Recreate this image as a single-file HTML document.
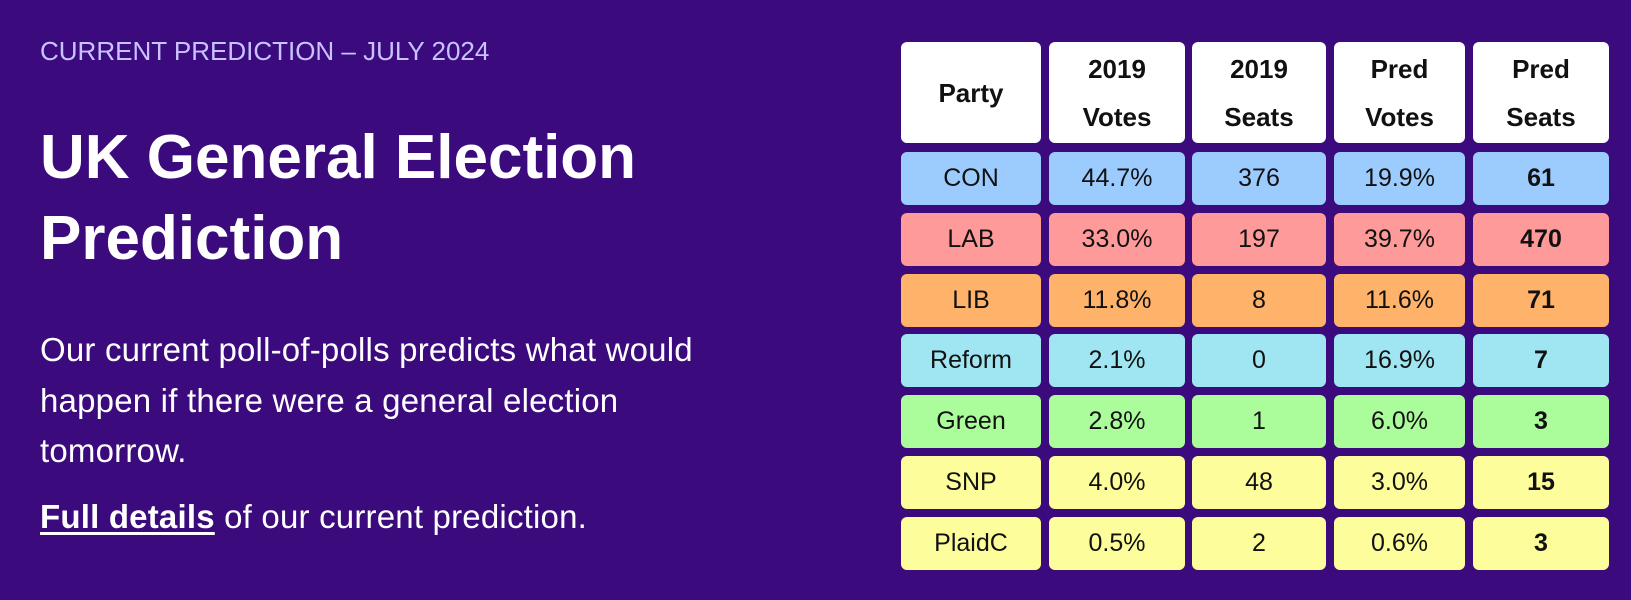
<!DOCTYPE html>
<html><head><meta charset="utf-8"><style>
html,body{margin:0;padding:0}
body{width:1631px;height:600px;background:#3b0b7e;position:relative;overflow:hidden;font-family:"Liberation Sans",sans-serif}
.lbl{position:absolute;left:40px;top:36px;font-size:26px;color:#c9c2ff;white-space:nowrap}
.t{position:absolute;left:40px;top:117px;font-size:62px;font-weight:bold;color:#fff;line-height:81px;letter-spacing:0;white-space:nowrap}
.p{position:absolute;left:40px;top:325px;font-size:33px;color:#fff;line-height:50.5px;letter-spacing:0.2px;white-space:nowrap}
.p2{position:absolute;left:40px;top:492px;font-size:33px;color:#fff;line-height:50px;letter-spacing:0.2px;white-space:nowrap}
.p2 b{text-decoration:underline;text-underline-offset:4px}
.c{position:absolute;border-radius:6px;display:flex;align-items:center;justify-content:center;text-align:center;font-size:25px;color:#111}
.h{background:#fff;font-weight:bold;font-size:26px;line-height:48px}
.b{font-weight:bold}
</style></head><body>
<div class="lbl">CURRENT PREDICTION – JULY 2024</div>
<div class="t">UK General Election<br>Prediction</div>
<div class="p">Our current poll-of-polls predicts what would<br>happen if there were a general election<br>tomorrow.</div>
<div class="p2"><b>Full details</b> of our current prediction.</div>
<div id="tb"></div>
<script>
var xs=[[901,140],[1049,136],[1192,134],[1334,131],[1473,136]];
var hd=["Party","2019<br>Votes","2019<br>Seats","Pred<br>Votes","Pred<br>Seats"];
var rows=[["CON","44.7%","376","19.9%","61","#9ccbfd"],["LAB","33.0%","197","39.7%","470","#fe9a9a"],["LIB","11.8%","8","11.6%","71","#ffb36a"],["Reform","2.1%","0","16.9%","7","#9fe6f2"],["Green","2.8%","1","6.0%","3","#abfd9b"],["SNP","4.0%","48","3.0%","15","#fdfd9c"],["PlaidC","0.5%","2","0.6%","3","#fdfd9c"]];
var h="";
for(var i=0;i<5;i++)h+='<div class="c h" style="left:'+xs[i][0]+'px;top:42px;width:'+xs[i][1]+'px;height:101px">'+hd[i]+'</div>';
for(var r=0;r<7;r++){var y=152+r*60.8;for(var i=0;i<5;i++)h+='<div class="c'+(i==4?' b':'')+'" style="left:'+xs[i][0]+'px;top:'+y+'px;width:'+xs[i][1]+'px;height:53px;background:'+rows[r][5]+'">'+rows[r][i]+'</div>';}
document.getElementById("tb").innerHTML=h;
</script>
</body></html>
